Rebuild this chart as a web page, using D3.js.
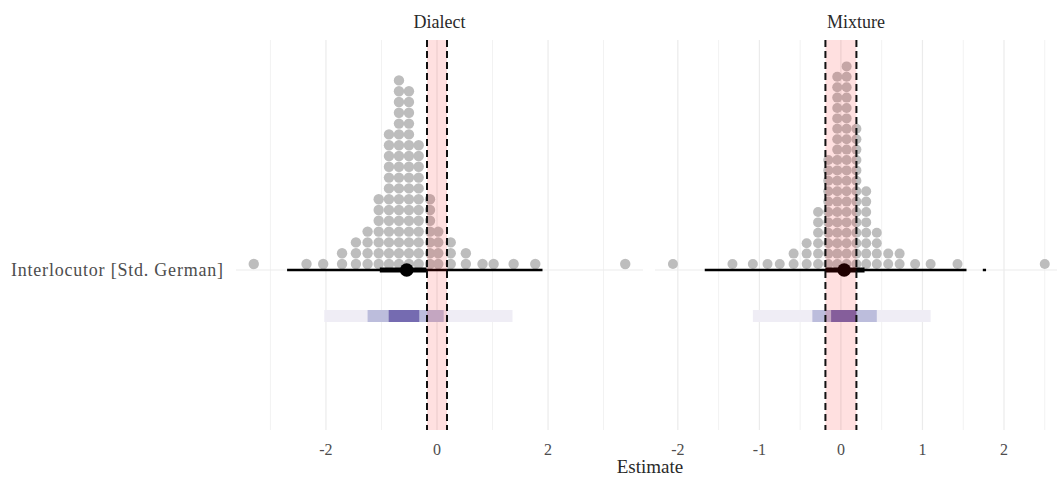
<!DOCTYPE html>
<html>

<head>
    <title>dots</title>
    <script src="https://d3js.org/d3.v7.min.js"></script>
    <style>
        body { margin: 0; background: #fff; }
        text { font-family: 'Liberation Serif', 'DejaVu Serif', serif; }
    </style>
</head>

<body>
    <svg width="1057" height="479" id="mainsvg"></svg>
    <script>
        // ---- data ----
        const panelNames = ['Dialect', 'Mixture'];
        const rowLabel = 'Interlocutor [Std. German]';

        // dot plot bins (centres) and how many dots stack in each
        const dialectBins = [-3.30, -2.35, -2.05, -1.71, -1.46, -1.25, -1.05, -0.865, -0.685, -0.505, -0.33, -0.126, 0.023, 0.247, 0.52, 0.82, 1.02, 1.38, 1.77, 3.39];
        const dialectCounts = [1, 1, 1, 2, 3, 4, 7, 13, 18, 17, 12, 7, 4, 3, 2, 1, 1, 1, 1, 1];
        const mixtureBins = [-2.06, -1.33, -1.08, -0.90, -0.75, -0.58, -0.42, -0.28, -0.155, -0.045, 0.07, 0.19, 0.31, 0.44, 0.58, 0.72, 0.91, 1.10, 1.43, 2.50];
        const mixtureCounts = [1, 1, 1, 1, 1, 2, 3, 6, 11, 19, 20, 14, 8, 4, 2, 2, 1, 1, 1, 1];

        // point + intervals (median, thick, thin)
        const medians = [-0.546, 0.04];
        const thickInt = [[-1.03, -0.19], [-0.19, 0.29]];
        const thinInt = [[-2.70, 1.90], [-1.67, 1.54]];
        const extraThin = [null, [1.74, 1.78]];

        // shaded interval bar below (wide / mid / narrow)
        const wideInt = [[-2.03, 1.36], [-1.08, 1.10]];
        const midInt = [[-1.25, 0.12], [-0.35, 0.44]];
        const narrowInt = [[-0.87, -0.32], [-0.12, 0.19]];

        // region of practical equivalence
        const rope = [[-0.18, 0.18], [-0.19, 0.19]];

        // axis
        const domains = [[-3.62, 3.71], [-2.28, 2.65]];
        const majorTicks = [[-2, 0, 2], [-2, -1, 0, 1, 2]];
        const minorTicks = [[-3, -1, 1, 3], [-1.5, -0.5, 0.5, 1.5, 2.5]];

        // ---- layout ----
        let svg = d3.select('#mainsvg');
        const ranges = [[236, 643], [655, 1057]];
        const plotTop = 40, plotBottom = 430, baseY = 270, barY = 316;
        const rowStep = [10.8, 10.4];
        const dotR = [5.2, 5.0];

        const bins = [dialectBins, mixtureBins];
        const counts = [dialectCounts, mixtureCounts];

        panelNames.forEach((name, p) => {
            const x = d3.scaleLinear().domain(domains[p]).range(ranges[p]);
            const y = d3.scaleLinear().domain([0, 1]).range([baseY - 6, baseY - 6 - rowStep[p]]);
            const g = svg.append('g');

            // grid
            g.selectAll('.minor').data(minorTicks[p]).enter().append('line')
                .attr('x1', d => x(d)).attr('x2', d => x(d))
                .attr('y1', plotTop).attr('y2', plotBottom)
                .attr('stroke', '#f2f2f2').attr('stroke-width', 1);
            g.selectAll('.major').data(majorTicks[p]).enter().append('line')
                .attr('x1', d => x(d)).attr('x2', d => x(d))
                .attr('y1', plotTop).attr('y2', plotBottom)
                .attr('stroke', '#ebebeb').attr('stroke-width', 1.2);
            g.append('line')
                .attr('x1', ranges[p][0]).attr('x2', ranges[p][1])
                .attr('y1', baseY).attr('y2', baseY)
                .attr('stroke', '#ebebeb').attr('stroke-width', 1.2);

            // dots
            const dots = [];
            bins[p].forEach((b, i) => {
                for (let k = 0; k < counts[p][i]; k++) dots.push({ v: b, k: k });
            });
            g.selectAll('circle.dot').data(dots).enter().append('circle')
                .attr('cx', d => x(d.v)).attr('cy', d => y(d.k))
                .attr('r', dotR[p]).attr('fill', '#bdbdbd');

            // point interval
            g.append('line')
                .attr('x1', x(thinInt[p][0])).attr('x2', x(thinInt[p][1]))
                .attr('y1', baseY).attr('y2', baseY)
                .attr('stroke', '#000').attr('stroke-width', 2.5);
            if (extraThin[p]) {
                g.append('line')
                    .attr('x1', x(extraThin[p][0])).attr('x2', x(extraThin[p][1]))
                    .attr('y1', baseY).attr('y2', baseY)
                    .attr('stroke', '#000').attr('stroke-width', 2.5);
            }
            g.append('line')
                .attr('x1', x(thickInt[p][0])).attr('x2', x(thickInt[p][1]))
                .attr('y1', baseY).attr('y2', baseY)
                .attr('stroke', '#000').attr('stroke-width', 5);
            g.append('circle')
                .attr('cx', x(medians[p])).attr('cy', baseY)
                .attr('r', 6.8).attr('fill', '#000');

            // interval bar
            [[wideInt, '#efedf5'], [midInt, '#bcbddc'], [narrowInt, '#756bb1']].forEach(([iv, c]) => {
                g.append('rect')
                    .attr('x', x(iv[p][0])).attr('width', x(iv[p][1]) - x(iv[p][0]))
                    .attr('y', barY - 6).attr('height', 12)
                    .attr('fill', c);
            });

            // rope band and bounds
            g.append('rect')
                .attr('x', x(rope[p][0])).attr('width', x(rope[p][1]) - x(rope[p][0]))
                .attr('y', plotTop).attr('height', plotBottom - plotTop)
                .attr('fill', '#ff0000').attr('fill-opacity', 0.12);
            g.selectAll('.ropeLine').data(rope[p]).enter().append('line')
                .attr('x1', d => x(d)).attr('x2', d => x(d))
                .attr('y1', plotTop).attr('y2', plotBottom)
                .attr('stroke', '#111').attr('stroke-width', 2)
                .attr('stroke-dasharray', '7,4');

            // tick labels
            g.selectAll('.tick').data(majorTicks[p]).enter().append('text')
                .attr('x', d => x(d)).attr('y', 455)
                .attr('text-anchor', 'middle')
                .attr('font-size', 16).attr('fill', '#4d4d4d')
                .text(d => d);

            // strip title
            g.append('text')
                .attr('x', (ranges[p][0] + ranges[p][1]) / 2).attr('y', 28)
                .attr('text-anchor', 'middle')
                .attr('font-size', 18).attr('fill', '#2a2a2a')
                .text(name);
        });

        svg.append('text')
            .attr('x', 223).attr('y', 276)
            .attr('text-anchor', 'end')
            .attr('font-size', 18).attr('fill', '#4d4d4d')
            .attr('textLength', 212).attr('lengthAdjust', 'spacing')
            .text(rowLabel);

        svg.append('text')
            .attr('x', 650).attr('y', 473)
            .attr('text-anchor', 'middle')
            .attr('font-size', 19).attr('fill', '#2a2a2a')
            .text('Estimate');
    </script>
</body>

</html>
